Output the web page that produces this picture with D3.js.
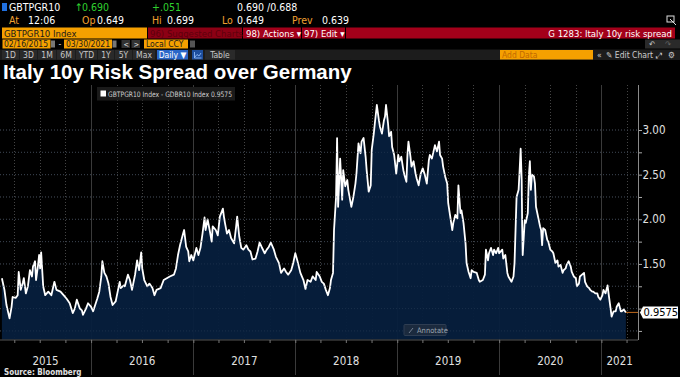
<!DOCTYPE html>
<html>
<head>
<meta charset="utf-8">
<script src="https://cdn.jsdelivr.net/npm/d3@7"></script>
<style>
  body { margin: 0; background: #000; }
  svg { display: block; }
  text { font-family: "Liberation Sans Narrow", "DejaVu Sans Condensed", sans-serif; }
</style>
</head>
<body>
<div id="chart"></div>
<script>
// dates as decimal years
const dates = [
  2015.125, 2015.15, 2015.17, 2015.20, 2015.22, 2015.23, 2015.26, 2015.28, 2015.29, 2015.31, 2015.33, 2015.34, 2015.36, 2015.38, 2015.40, 2015.42, 2015.43, 2015.45, 2015.46, 2015.48, 2015.49, 2015.50, 2015.51, 2015.53, 2015.55, 2015.58, 2015.61, 2015.64, 2015.66, 2015.70, 2015.73, 2015.76, 2015.79, 2015.82, 2015.84, 2015.86, 2015.89, 2015.91, 2015.92, 2015.95, 2015.97, 2016.00, 2016.02, 2016.04, 2016.06, 2016.08, 2016.10, 2016.11, 2016.13, 2016.15, 2016.17, 2016.19, 2016.21, 2016.24, 2016.26, 2016.28, 2016.29, 2016.32,
  2016.33, 2016.36, 2016.38, 2016.40, 2016.43, 2016.45, 2016.47, 2016.49, 2016.50, 2016.52, 2016.55, 2016.57, 2016.60, 2016.62, 2016.64, 2016.68, 2016.71, 2016.74, 2016.77, 2016.81, 2016.83, 2016.85, 2016.87, 2016.90, 2016.91, 2016.93, 2016.95, 2016.96, 2016.98, 2017.00, 2017.03, 2017.05, 2017.07, 2017.09, 2017.11, 2017.12, 2017.14, 2017.16, 2017.18, 2017.19, 2017.22, 2017.24, 2017.26, 2017.29, 2017.30, 2017.31, 2017.33, 2017.35, 2017.37, 2017.40, 2017.42, 2017.43, 2017.45, 2017.47, 2017.49, 2017.52, 2017.54, 2017.56, 2017.58,
  2017.61, 2017.63, 2017.65, 2017.67, 2017.70, 2017.72, 2017.74, 2017.76, 2017.79, 2017.81, 2017.84, 2017.86, 2017.89, 2017.91, 2017.93, 2017.96, 2017.98, 2018.00, 2018.02, 2018.05, 2018.08, 2018.10, 2018.12, 2018.15, 2018.17, 2018.20, 2018.21, 2018.24, 2018.26, 2018.28, 2018.30, 2018.32, 2018.34, 2018.35, 2018.37, 2018.38, 2018.40, 2018.41, 2018.42, 2018.44, 2018.46, 2018.47, 2018.49, 2018.51, 2018.52, 2018.55, 2018.57, 2018.59, 2018.60, 2018.62, 2018.64, 2018.65, 2018.67, 2018.69, 2018.70, 2018.72, 2018.74, 2018.75, 2018.77, 2018.78,
  2018.80, 2018.82, 2018.83, 2018.85, 2018.87, 2018.88, 2018.89, 2018.91, 2018.92, 2018.94, 2018.95, 2018.97, 2018.99, 2019.01, 2019.02, 2019.04, 2019.06, 2019.07, 2019.09, 2019.10, 2019.11, 2019.13, 2019.14, 2019.16, 2019.18, 2019.19, 2019.21, 2019.23, 2019.25, 2019.27, 2019.29, 2019.31, 2019.32, 2019.34, 2019.36, 2019.37, 2019.39, 2019.41, 2019.42, 2019.44, 2019.45, 2019.47, 2019.49, 2019.50, 2019.52, 2019.54, 2019.55, 2019.57, 2019.59, 2019.60, 2019.62, 2019.63, 2019.65, 2019.67, 2019.68, 2019.70, 2019.72, 2019.73, 2019.75, 2019.78, 2019.80, 2019.81, 2019.84, 2019.86, 2019.87, 2019.89, 2019.90, 2019.92, 2019.94, 2019.95, 2019.97, 2019.99, 2020.00,
  2020.03, 2020.04, 2020.06, 2020.08, 2020.09, 2020.11, 2020.12, 2020.14, 2020.15, 2020.16, 2020.17, 2020.19, 2020.20, 2020.21, 2020.22, 2020.225, 2020.23, 2020.25, 2020.26, 2020.28, 2020.29, 2020.30, 2020.31, 2020.32, 2020.34, 2020.35, 2020.36, 2020.38, 2020.40, 2020.41, 2020.42, 2020.43, 2020.45, 2020.47, 2020.48, 2020.50, 2020.52, 2020.53, 2020.55, 2020.57, 2020.58, 2020.60, 2020.62, 2020.63, 2020.65, 2020.66, 2020.68, 2020.70, 2020.71, 2020.73, 2020.75, 2020.76, 2020.78, 2020.79, 2020.81, 2020.83, 2020.84, 2020.86, 2020.88, 2020.89, 2020.91, 2020.92, 2020.94, 2020.96, 2020.97, 2020.99, 2021.01, 2021.02, 2021.04, 2021.06, 2021.07, 2021.09, 2021.10, 2021.12, 2021.14, 2021.15, 2021.17, 2021.19, 2021.20, 2021.22, 2021.24
];

// GBTPGR10 - GDBR10, percentage points
const spread = [
  1.34, 1.21, 1.04, 0.89, 1.02, 1.13, 1.12, 1.15, 1.41, 1.21, 1.29, 1.34, 1.17, 1.25, 1.43, 1.36, 1.47, 1.53, 1.32, 1.49, 1.60, 1.45, 1.63, 1.25, 1.15, 1.19, 1.15, 1.30, 1.21, 1.19, 1.15, 1.11, 1.06, 0.95, 1.00, 1.10, 1.00, 0.98, 0.93, 1.00, 1.06, 1.02, 0.97, 1.04, 1.11, 1.19, 1.36, 1.53, 1.40, 1.36, 1.28, 1.13, 1.04, 1.08, 1.19, 1.30, 1.23, 1.26,
  1.25, 1.38, 1.32, 1.21, 1.38, 1.54, 1.43, 1.63, 1.45, 1.32, 1.25, 1.28, 1.23, 1.15, 1.21, 1.23, 1.32, 1.34, 1.36, 1.38, 1.45, 1.60, 1.71, 1.84, 1.88, 1.69, 1.64, 1.53, 1.60, 1.54, 1.68, 1.60, 1.68, 1.84, 2.02, 1.88, 2.00, 1.88, 1.75, 1.92, 1.88, 1.82, 2.03, 2.12, 2.03, 1.96, 1.84, 1.88, 1.79, 1.73, 1.92, 2.03, 1.81, 1.68, 1.66, 1.71, 1.66, 1.64, 1.55,
  1.56, 1.64, 1.74, 1.69, 1.62, 1.66, 1.69, 1.74, 1.66, 1.58, 1.51, 1.40, 1.45, 1.41, 1.38, 1.43, 1.51, 1.62, 1.54, 1.40, 1.32, 1.22, 1.32, 1.30, 1.36, 1.32, 1.41, 1.36, 1.30, 1.28, 1.21, 1.15, 1.23, 1.32, 1.40, 1.88, 2.25, 2.91, 2.14, 2.68, 2.22, 2.55, 2.37, 2.44, 2.33, 2.14, 2.25, 2.40, 2.51, 2.85, 2.74, 2.87, 2.91, 2.70, 2.55, 2.31, 2.38, 2.78, 2.96, 3.07,
  3.28, 3.11, 3.04, 2.96, 3.11, 3.15, 3.28, 3.07, 2.93, 2.98, 2.81, 2.72, 2.51, 2.72, 2.65, 2.70, 2.55, 2.50, 2.42, 2.72, 2.87, 2.70, 2.59, 2.65, 2.51, 2.46, 2.38, 2.51, 2.57, 2.50, 2.40, 2.66, 2.72, 2.68, 2.78, 2.83, 2.76, 2.87, 2.72, 2.68, 2.59, 2.48, 2.40, 2.18, 2.03, 1.88, 1.96, 2.05, 2.01, 2.38, 2.07, 2.10, 1.96, 1.73, 1.51, 1.41, 1.34, 1.43, 1.41, 1.40, 1.32, 1.30, 1.32, 1.38, 1.66, 1.54, 1.62, 1.68, 1.60, 1.66, 1.62, 1.68, 1.62,
  1.66, 1.56, 1.60, 1.40, 1.36, 1.32, 1.30, 1.36, 1.51, 1.88, 2.25, 2.33, 2.55, 2.79, 2.44, 1.92, 1.60, 1.99, 1.96, 2.07, 2.48, 2.65, 2.33, 2.50, 2.48, 2.40, 2.14, 2.03, 1.92, 1.88, 1.71, 1.90, 1.88, 1.77, 1.75, 1.66, 1.64, 1.62, 1.51, 1.54, 1.47, 1.49, 1.40, 1.43, 1.45, 1.49, 1.53, 1.47, 1.41, 1.36, 1.34, 1.25, 1.28, 1.36, 1.38, 1.40, 1.30, 1.25, 1.23, 1.21, 1.19, 1.19, 1.17, 1.17, 1.13, 1.10, 1.15, 1.21, 1.17, 1.26, 1.17, 1.00, 0.91, 0.97, 0.97, 1.02, 1.06, 0.97, 0.97, 0.99, 0.9575
];

const yTicks = [0.75, 1.00, 1.25, 1.50, 1.75, 2.00, 2.25, 2.50, 2.75, 3.00];
// 1.00 sits under the last-value tag, so it is not labelled
const yLabels = [1.50, 2.00, 2.50, 3.00];
const yearLabels = ["2015", "2016", "2017", "2018", "2019", "2020", "2021"];
const lastValue = 0.9575;

if (dates.length !== spread.length) console.error("length mismatch", dates.length, spread.length);

function toDate(t) {
  const yr = Math.floor(t);
  const a = new Date(yr, 0, 1), b = new Date(yr + 1, 0, 1);
  return new Date(+a + (t - yr) * (b - a));
}
const data = dates.map((t, i) => ({ date: toDate(t), v: spread[i] }));

const W = 680, H = 377;
const svg = d3.select("#chart").append("svg").attr("width", W).attr("height", H);
svg.append("rect").attr("width", W).attr("height", H).attr("fill", "#000");

const plotTop = 85, plotBottom = 339.5, axisX = 638;
const x = d3.scaleTime()
  .domain([new Date(2015, 1, 16), new Date(2021, 2, 30)])
  .range([2, 626]);
const y = d3.scaleLinear().domain([3.0, 1.0]).range([130, 308.6]);
const gridEnd = x.invert(axisX);

function label(g, px, py, str, color, size, extra) {
  const t = g.append("text").attr("x", px).attr("y", py).text(str)
    .attr("fill", color).style("font-size", size + "px");
  if (extra) extra(t);
  return t;
}

// ---------- header ----------
const hdr = svg.append("g");
hdr.append("rect").attr("x", 2).attr("y", 3).attr("width", 5).attr("height", 8).attr("fill", "#2070e0");
label(hdr, 9, 11, "GBTPGR10", "#fff", 10.5);
label(hdr, 75, 11, "\u2191", "#2fd02f", 10.5);
label(hdr, 82, 11, "0.690", "#2fd02f", 10.5);
label(hdr, 152, 11, "+.051", "#2fd02f", 10.5);
label(hdr, 237, 11, "0.690 /0.688", "#fff", 10.5);

const amber = "#f0a030";
[["At", 9, "12:06", 28], ["Op", 82, "0.649", 97], ["Hi", 152, "0.699", 167],
 ["Lo", 222, "0.649", 237], ["Prev", 292, "0.639", 322]].forEach(r => {
  label(hdr, r[1], 24, r[0], amber, 10.5);
  label(hdr, r[3], 24, r[2], "#fff", 10.5);
});

// row 3: security + function bar
hdr.append("rect").attr("x", 2).attr("y", 27.5).attr("width", 145).attr("height", 11).attr("fill", "#f5a000");
label(hdr, 4, 36.5, "GBTPGR10 Index", "#1a1a1a", 9.5);
hdr.append("rect").attr("x", 148).attr("y", 27.5).attr("width", 94).attr("height", 11).attr("fill", "#8c0014");
label(hdr, 150, 36.5, "96) Suggested Charts", "#5e000c", 9.5);
hdr.append("rect").attr("x", 243).attr("y", 27.5).attr("width", 58).attr("height", 11).attr("fill", "#a3001a");
label(hdr, 246, 36.5, "98) Actions \u25BE", "#fff", 9.5);
hdr.append("rect").attr("x", 302).attr("y", 27.5).attr("width", 43).attr("height", 11).attr("fill", "#a3001a");
label(hdr, 304, 36.5, "97) Edit \u25BE", "#fff", 9.5);
hdr.append("rect").attr("x", 346).attr("y", 27.5).attr("width", 329).attr("height", 11).attr("fill", "#a3001a");
label(hdr, 672, 36.5, "G 1283: Italy 10y risk spread", "#fff", 9.5, t => t.attr("text-anchor", "end"));
// pop-out icon
hdr.append("rect").attr("x", 667).attr("y", 16).attr("width", 7).attr("height", 6)
  .attr("fill", "none").attr("stroke", "#ddd").attr("stroke-width", 1);
hdr.append("path").attr("d", "M670,19 L676,25").attr("stroke", "#ddd").attr("stroke-width", 1);

// row 4: date range
hdr.append("rect").attr("x", 2.5).attr("y", 39.5).attr("width", 48).attr("height", 9).attr("fill", "#f5a000");
label(hdr, 4, 47, "02/16/2015", "#1a1a1a", 8.5);
hdr.append("rect").attr("x", 51).attr("y", 40.5).attr("width", 4).attr("height", 7).attr("fill", "#777");
label(hdr, 58.5, 47, "-", "#ddd", 8.5);
hdr.append("rect").attr("x", 64).attr("y", 39.5).attr("width", 48).attr("height", 9).attr("fill", "#f5a000");
label(hdr, 66, 47, "03/30/2021", "#1a1a1a", 8.5);
hdr.append("rect").attr("x", 112.5).attr("y", 40.5).attr("width", 4).attr("height", 7).attr("fill", "#777");
hdr.append("rect").attr("x", 121.5).attr("y", 40).attr("width", 8.5).attr("height", 8).attr("fill", "#333");
label(hdr, 123.5, 46.5, "<", "#ddd", 7.5);
hdr.append("rect").attr("x", 131.5).attr("y", 40).attr("width", 8.5).attr("height", 8).attr("fill", "#333");
label(hdr, 133.5, 46.5, ">", "#ddd", 7.5);
hdr.append("rect").attr("x", 144).attr("y", 39.5).attr("width", 44).attr("height", 9).attr("fill", "#f5a000");
label(hdr, 146, 47, "Local CCY", "#1a1a1a", 8.5);
hdr.append("rect").attr("x", 190).attr("y", 40.5).attr("width", 5).attr("height", 7).attr("fill", "#555");
hdr.append("rect").attr("x", 645).attr("y", 39.5).attr("width", 35).attr("height", 9).attr("fill", "#2a2a2a");
label(hdr, 649, 47, "\u21B6", "#ccc", 8);
label(hdr, 665, 47, "\u21B7", "#666", 8);

// row 5: toolbar
hdr.append("rect").attr("x", 0).attr("y", 49.5).attr("width", W).attr("height", 10.5).attr("fill", "#1c1c1c");
[["1D", 2, 19], ["3D", 20, 37], ["1M", 38, 56], ["6M", 57, 75], ["YTD", 76, 97],
 ["1Y", 98, 114], ["5Y", 115, 132], ["Max", 133, 155]].forEach(b => {
  hdr.append("rect").attr("x", b[1]).attr("y", 50).attr("width", b[2] - b[1]).attr("height", 9.5).attr("fill", "#2a2a2a");
  label(hdr, (b[1] + b[2]) / 2, 57.5, b[0], "#c8c8c8", 8.5, t => t.attr("text-anchor", "middle"));
});
hdr.append("rect").attr("x", 157).attr("y", 50).attr("width", 31).attr("height", 9.5).attr("fill", "#2a66c8");
label(hdr, 172.5, 57.5, "Daily \u25BC", "#fff", 8.5, t => t.attr("text-anchor", "middle"));
hdr.append("rect").attr("x", 192).attr("y", 50).attr("width", 11).attr("height", 9.5).attr("fill", "#1d4e9e");
hdr.append("path").attr("d", "M194.5,57.5 L197,54.5 L199,56 L201,53 M194.5,52 L194.5,58 L201.5,58")
  .attr("fill", "none").attr("stroke", "#9cc4ff").attr("stroke-width", 0.8);
hdr.append("rect").attr("x", 205).attr("y", 50).attr("width", 30).attr("height", 9.5).attr("fill", "#2a2a2a");
label(hdr, 220, 57.5, "Table", "#c8c8c8", 8.5, t => t.attr("text-anchor", "middle"));
hdr.append("rect").attr("x", 500).attr("y", 50).attr("width", 93).attr("height", 9.5).attr("fill", "#f5a000");
label(hdr, 502, 57.5, "Add Data", "#c26a00", 8.5);
label(hdr, 597, 57.5, "\u00AB", "#ccc", 8.5);
label(hdr, 606, 57.5, "\u270E Edit Chart", "#ccc", 8.5);
label(hdr, 656, 57.5, "\u2922", "#ccc", 8);
label(hdr, 668, 57.5, "\u2699", "#ccc", 8.5);

// ---------- title ----------
svg.append("text").attr("x", 3).attr("y", 78.5)
  .text("Italy 10y Risk Spread over Germany")
  .attr("fill", "#fff")
  .style("font-family", "'Liberation Sans', Arial, sans-serif")
  .style("font-weight", "bold").style("font-size", "20.5px");

// ---------- plot ----------
const plot = svg.append("g");

// horizontal dotted grid
plot.selectAll(".hgrid").data(yTicks).enter().append("line")
  .attr("x1", 0).attr("x2", axisX)
  .attr("y1", d => y(d)).attr("y2", d => y(d))
  .attr("stroke", "#444").attr("stroke-width", 1).attr("stroke-dasharray", "1,2");

// quarterly dotted grid, solid at year starts
const quarters = d3.timeMonth.every(3).range(x.domain()[0], gridEnd);
plot.selectAll(".vgrid").data(quarters.filter(d => d.getMonth() !== 0)).enter().append("line")
  .attr("x1", d => Math.round(x(d)) + 0.5).attr("x2", d => Math.round(x(d)) + 0.5)
  .attr("y1", plotTop).attr("y2", plotBottom)
  .attr("stroke", "#444").attr("stroke-dasharray", "1,2");
const yearStarts = d3.timeYear.range(x.domain()[0], gridEnd);
plot.selectAll(".ygrid").data(yearStarts).enter().append("line")
  .attr("x1", d => Math.round(x(d)) + 0.5).attr("x2", d => Math.round(x(d)) + 0.5)
  .attr("y1", plotTop).attr("y2", 375)
  .attr("stroke", "#3a3a3a");

// area + line
const area = d3.area().x(d => x(d.date)).y0(plotBottom).y1(d => y(d.v));
const line = d3.line().x(d => x(d.date)).y(d => y(d.v));
plot.append("path").datum(data).attr("d", area).attr("fill", "#061f3d").attr("fill-opacity", 0.95);
plot.append("path").datum(data).attr("d", line)
  .attr("fill", "none").attr("stroke", "#fff").attr("stroke-width", 1.8).attr("stroke-linejoin", "round");

// grid over the fill (faint)
plot.selectAll(".hgrid2").data(yTicks).enter().append("line")
  .attr("x1", 0).attr("x2", axisX)
  .attr("y1", d => y(d)).attr("y2", d => y(d))
  .attr("stroke", "#2c3e58").attr("stroke-opacity", 0.5).attr("stroke-dasharray", "1,2");

// right axis
const yAxis = d3.axisRight(y).tickValues(yTicks).tickSize(4).tickFormat("");
const ya = svg.append("g").attr("transform", `translate(${axisX},0)`).call(yAxis);
ya.select(".domain").remove();
ya.selectAll("line").attr("stroke", "#aaa");
svg.append("line").attr("x1", axisX + 0.5).attr("x2", axisX + 0.5).attr("y1", plotTop).attr("y2", 340)
  .attr("stroke", "#8a8a8a");
svg.selectAll(".ylab").data(yLabels).enter().append("text")
  .attr("x", axisX + 4.5).attr("y", d => y(d) + 4)
  .text(d => d.toFixed(2))
  .attr("fill", "#e0e0e0").style("font-size", "11.5px");

// bottom axis
svg.append("line").attr("x1", 0).attr("x2", axisX).attr("y1", 340).attr("y2", 340).attr("stroke", "#555");
const xAxis = d3.axisBottom(x).tickValues(quarters).tickSize(3).tickFormat("");
const xa = svg.append("g").attr("transform", "translate(0,340)").call(xAxis);
xa.select(".domain").remove();
xa.selectAll("line").attr("stroke", "#777");

const yearBounds = yearLabels.map(s => {
  const a = Math.max(0, x(new Date(+s, 0, 1)));
  const b = Math.min(axisX, x(new Date(+s + 1, 0, 1)));
  return { s, c: (a + b) / 2 };
});
svg.selectAll(".xlab").data(yearBounds).enter().append("text")
  .attr("x", d => d.c).attr("y", 365).attr("text-anchor", "middle")
  .text(d => d.s).attr("fill", "#e0e0e0").style("font-size", "11.5px");

// last value marker
const yl = y(lastValue);
svg.append("line").attr("x1", x(data[data.length - 1].date)).attr("x2", axisX)
  .attr("y1", yl).attr("y2", yl).attr("stroke", "#c06a1c").attr("stroke-width", 1);
svg.append("path")
  .attr("d", `M${axisX + 2},${yl} L${axisX + 5},${yl - 6} L678,${yl - 6} L678,${yl + 6} L${axisX + 5},${yl + 6} Z`)
  .attr("fill", "#fff");
svg.append("text").attr("x", axisX + 5.5).attr("y", yl + 4).text(lastValue.toFixed(4))
  .attr("fill", "#000").style("font-size", "11px");

// legend
const lg = svg.append("g");
lg.append("rect").attr("x", 97).attr("y", 87).attr("width", 138).attr("height", 13.5).attr("fill", "#1a1a1a");
lg.append("rect").attr("x", 100.5).attr("y", 90.5).attr("width", 5.5).attr("height", 6).attr("fill", "#fff");
lg.append("text").attr("x", 108).attr("y", 97)
  .text(`GBTPGR10 Index - GDBR10 Index ${lastValue}`)
  .attr("fill", "#cfcfcf").style("font-size", "7.5px")
  .attr("textLength", 124).attr("lengthAdjust", "spacingAndGlyphs");

// annotate button
const an = svg.append("g");
an.append("rect").attr("x", 404).attr("y", 324.5).attr("width", 42).attr("height", 11).attr("rx", 1)
  .attr("fill", "#1b2a3e").attr("stroke", "#2e3d52");
an.append("path").attr("d", "M409,333 L413,328").attr("stroke", "#8a96a6").attr("stroke-width", 0.8);
an.append("text").attr("x", 417).attr("y", 332.5).text("Annotate").attr("fill", "#9aa4b0").style("font-size", "7.5px");

// source
svg.append("text").attr("x", 4).attr("y", 375).text("Source: Bloomberg")
  .attr("fill", "#e0e0e0").style("font-size", "8px").style("font-weight", "bold");
</script>
</body>
</html>
